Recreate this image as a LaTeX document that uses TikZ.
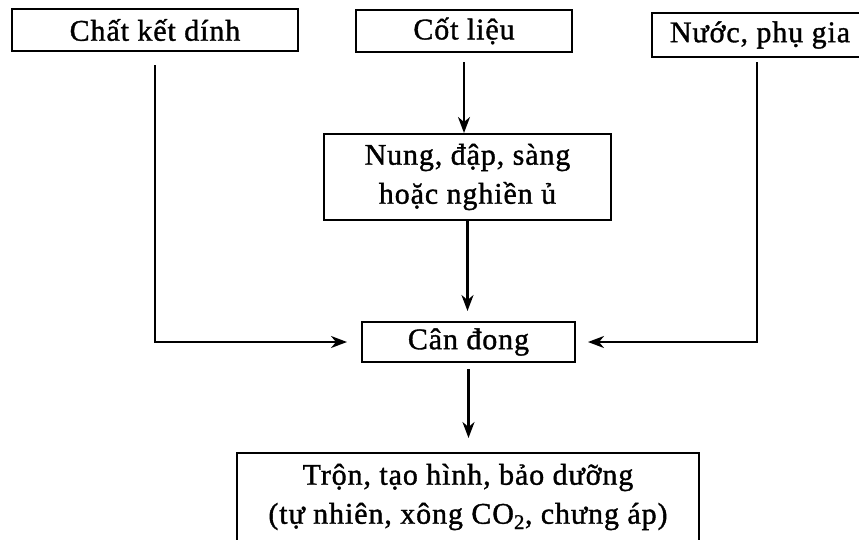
\documentclass[tikz,border=0pt]{standalone}
\usepackage{fontspec}
\setmainfont{Liberation Serif}[FakeBold=1.2, LetterSpace=3]
\usetikzlibrary{arrows.meta}
\tikzset{
  box/.style={draw, line width=2pt, rectangle, inner sep=0pt, align=center,
    font=\fontsize{30}{39}\selectfont},
  flow/.style={line width=2.2pt, -{Stealth[length=16pt,width=12pt,inset=5pt]}},
}
\begin{document}
\begin{tikzpicture}[x=1pt,y=-1pt]
\useasboundingbox (0,0) rectangle (859,539);
\clip (0,0) rectangle (859,539);
\node[box, minimum width=286pt, minimum height=42pt] (b1) at (155,30) {Chất kết dính};
\node[box, minimum width=216pt, minimum height=42pt] (b2) at (464,31) {Cốt liệu};
\node[box, minimum width=216pt, minimum height=44pt] (b3) at (760,35) {Nước, phụ gia};
\node[box, minimum width=287pt, minimum height=86pt] (b4) at (467.5,177) {Nung, đập, sàng\\hoặc nghiền ủ};
\node[box, minimum width=213pt, minimum height=40pt] (cd) at (468.5,342) {Cân đong};
\node[box, minimum width=462pt, minimum height=88pt] (b5) at (468,497) {Trộn, tạo hình, bảo dưỡng\\(tự nhiên, xông CO\textsubscript{2}, chưng áp)};
\coordinate (c1) at (155,342);
\coordinate (c3) at (757,342);
\draw[flow] ([yshift=-13pt]b1.south) -- (c1) -- ([xshift=-14pt]cd.west);
\draw[flow] ([yshift=-9pt]b2.south) -- (b2.south |- b4.north);
\draw[flow] (b4.south) -- ([yshift=10pt]b4.south |- cd.north);
\draw[flow] ([yshift=-4pt]b3.south -| c3) -- (c3) -- ([xshift=12pt]cd.east);
\draw[flow] ([yshift=-6pt]cd.south) -- ([yshift=14pt]cd.south |- b5.north);
\end{tikzpicture}
\end{document}
